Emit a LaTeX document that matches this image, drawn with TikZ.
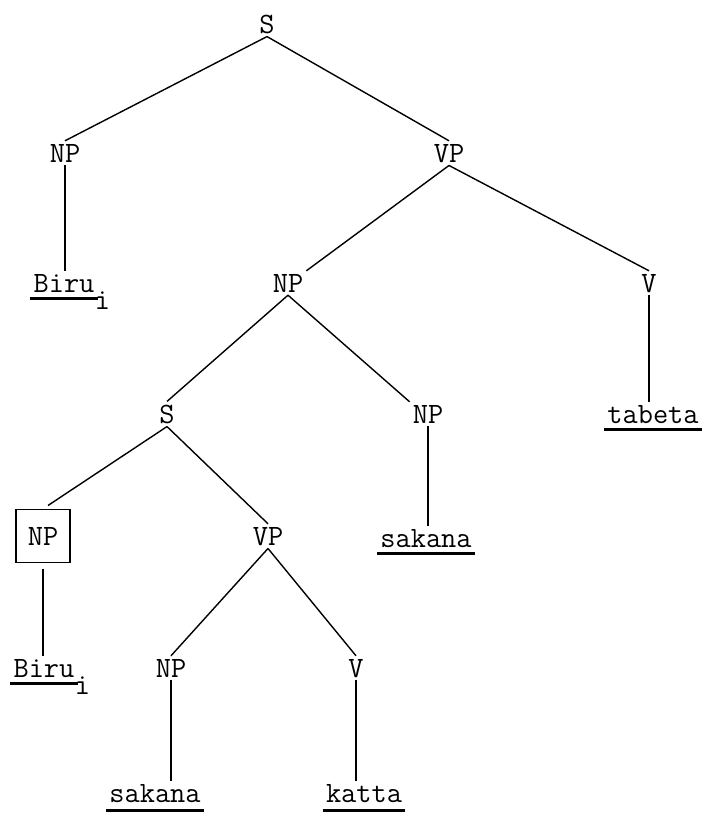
\documentclass[tikz,border=0pt]{standalone}
\usepackage{fontspec}
\usepackage{tikz}
\usetikzlibrary{positioning}

\begin{document}
\begin{tikzpicture}[
    x=1pt, y=-1pt,
    every node/.style={font=\ttfamily\fontsize{29.5}{34}\selectfont},
    cat/.style={inner sep=3pt, anchor=base},
    word/.style={inner sep=3pt, anchor=base},
    sub/.style={inner sep=0pt, anchor=north west},
    trace/.style={draw, line width=1.4pt, minimum width=54pt, minimum height=53pt, inner sep=0pt},
    branch/.style={line width=1.4pt},
    uline/.style={line width=2.6pt},
]
\useasboundingbox (0,0) rectangle (705,815);

% Matrix clause
\node[cat]  (s)       at (267,33)  {S};
\node[cat]  (npa)     at (65,162)  {NP};
\node[cat]  (vpa)     at (449,162) {VP};
\node[word] (birua)   at (64,292)  {Biru};
\node[sub]  (birua-i) at ([xshift=-3pt]birua.base east) {i};
\node[cat]  (npb)     at (288,292) {NP};
\node[cat]  (va)      at (649,292) {V};
\node[word] (tabeta)  at (653,423) {tabeta};
% Relative clause inside the object NP
\node[cat]  (sb)      at (167,423) {S};
\node[cat]  (npc)     at (428,423) {NP};
\node[word] (sakanaa) at (426,547) {sakana};
\node[trace] (npbox)  at (43,536)  {NP};
\node[cat]  (vpb)     at (268,545) {VP};
\node[word] (birub)   at (44,677)  {Biru};
\node[sub]  (birub-i) at ([xshift=-3pt]birub.base east) {i};
\node[cat]  (npd)     at (171,677) {NP};
\node[cat]  (vb)      at (356,677) {V};
\node[word] (sakanab) at (155,802) {sakana};
\node[word] (katta)   at (364,802) {katta};

% Branches of the upper tree.
\draw[branch] (s.south)   -- (npa.north);
\draw[branch] (s.south)   -- (vpa.north);
\draw[branch] (npa.south) -- (npa.south |- birua.north);
\draw[branch] (vpa.south) -- (npb.north east);
\draw[branch] (vpa.south) -- (va.north);
\draw[branch] (va.south)  -- (va.south |- tabeta.north);
\draw[branch] (npb.south) -- (sb.north);
\draw[branch] (npb.south) -- (npc.north west);
\draw[branch] (npc.south) -- (npc.south |- sakanaa.north);
% Branches of the embedded S; the boxed NP is the gap.
\draw[branch, shorten >=6pt] (sb.south) -- (npbox.north);
\draw[branch] (sb.south)  -- (vpb.north);
\draw[branch, shorten <=6pt] (npbox.south) -- (npbox.south |- birub.north);
\draw[branch] (vpb.south) -- (npd.north);
\draw[branch] (vpb.south) -- (vb.north);
\draw[branch] (npd.south) -- (npd.south |- sakanab.north);
\draw[branch] (vb.south)  -- (vb.south |- katta.north);

% Underlined words.
\draw[uline] ([yshift=-3pt]birua.south west)   -- ([yshift=-3pt]birua.south east);
\draw[uline] ([yshift=-3pt]tabeta.south west)  -- ([yshift=-3pt]tabeta.south east);
\draw[uline] ([yshift=-3pt]sakanaa.south west) -- ([yshift=-3pt]sakanaa.south east);
\draw[uline] ([yshift=-3pt]birub.south west)   -- ([yshift=-3pt]birub.south east);
\draw[uline] ([yshift=-5pt]sakanab.south west) -- ([yshift=-5pt]sakanab.south east);
\draw[uline] ([yshift=-5pt]katta.south west)   -- ([yshift=-5pt]katta.south east);
\end{tikzpicture}
\end{document}
